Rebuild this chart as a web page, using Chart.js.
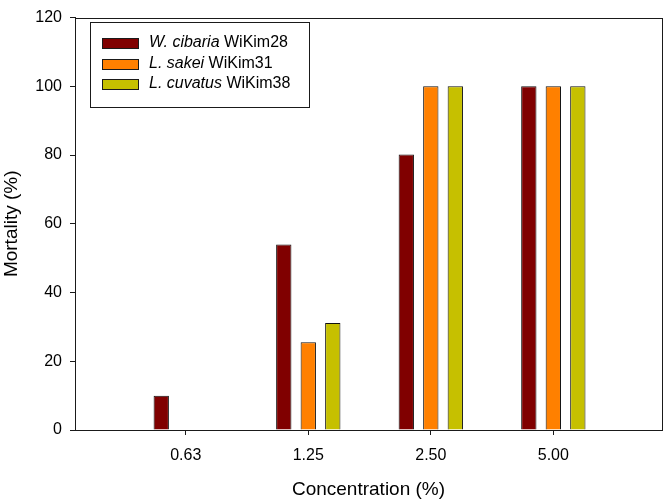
<!DOCTYPE html>
<html>
<head>
<meta charset="utf-8">
<script src="https://cdn.jsdelivr.net/npm/chart.js@4"></script>
<style>
  html, body { margin: 0; padding: 0; background: #fff; }
  #wrap { width: 666px; height: 501px; }
</style>
</head>
<body>
<div id="wrap"><canvas id="c" width="666" height="501"></canvas></div>
<script>
// ── 数据 ──
const concLabels = ['0.63', '1.25', '2.50', '5.00'];
const speciesNames = ['W. cibaria', 'L. sakei', 'L. cuvatus'];
const strainNames  = ['WiKim28', 'WiKim31', 'WiKim38'];
const cibaria = [10, 54, 80.2, 100];
const sakei   = [0, 25.5, 100, 100];
const cuvatus = [0, 31.1, 100, 100];
const yTicks  = [0, 20, 40, 60, 80, 100, 120];

const seriesValues = [cibaria, sakei, cuvatus];
const seriesColors = ['#800000', '#ff8000', '#c6c000'];
const FONT = '"Liberation Sans", Arial, sans-serif';

const datasets = seriesValues.map((vals, i) => ({
  label: speciesNames[i] + ' ' + strainNames[i],
  data: vals.map((v, k) => ({ x: k, y: v })),
  backgroundColor: seriesColors[i],
  borderColor: '#111',
  borderWidth: 1,
  borderSkipped: 'bottom',
  categoryPercentage: 0.6,
  barPercentage: 0.625,
}));

// 图框 + 自定义图例（斜体种名）
const frameLegend = {
  id: 'frameLegend',
  afterDraw(chart) {
    const { ctx, chartArea: a } = chart;
    ctx.save();
    ctx.strokeStyle = '#1a1a1a';
    ctx.lineWidth = 1;
    ctx.strokeRect(Math.round(a.left) + 0.5, Math.round(a.top) + 0.5,
                   Math.round(a.right - a.left), Math.round(a.bottom - a.top));

    // legend box
    ctx.strokeRect(90.5, 22.5, 219, 85);
    const rows = [43, 64, 84];
    ctx.textBaseline = 'middle';
    rows.forEach((y, i) => {
      ctx.fillStyle = seriesColors[i];
      ctx.fillRect(102, y - 5, 37, 11);
      ctx.strokeRect(102.5, y - 4.5, 36, 10);
      ctx.fillStyle = '#000';
      ctx.font = 'italic 16px ' + FONT;
      ctx.fillText(speciesNames[i], 149, y);
      const w = ctx.measureText(speciesNames[i] + ' ').width;
      ctx.font = '16px ' + FONT;
      ctx.fillText(strainNames[i], 149 + w, y);
    });
    ctx.restore();
  },
};

new Chart(document.getElementById('c'), {
  type: 'bar',
  data: { datasets },
  plugins: [frameLegend],
  options: {
    responsive: false,
    animation: false,
    layout: { padding: { top: 6, right: 4, left: 0, bottom: 0 } },
    plugins: { legend: { display: false }, tooltip: { enabled: false } },
    scales: {
      x: {
        type: 'linear',
        offset: false,
        min: -0.904,
        max: 3.887,
        afterBuildTicks: s => { s.ticks = concLabels.map((_, k) => ({ value: k })); },
        afterFit: s => { s.height = 71; },
        ticks: {
          color: '#000',
          font: { family: FONT, size: 16 },
          padding: 11,
          callback: v => concLabels[v] ?? '',
        },
        grid: { offset: false, drawOnChartArea: false, tickLength: 5, color: '#1a1a1a' },
        border: { color: '#1a1a1a', width: 1 },
        title: {
          display: true,
          text: 'Concentration (%)',
          color: '#000',
          font: { family: FONT, size: 19 },
          padding: { top: 0, bottom: 0 },
        },
      },
      y: {
        min: 0,
        max: 120,
        afterBuildTicks: s => { s.ticks = yTicks.map(v => ({ value: v })); },
        afterFit: s => { s.width = 75; },
        ticks: {
          color: '#000',
          font: { family: FONT, size: 16 },
          padding: 8,
        },
        grid: { drawOnChartArea: false, tickLength: 5, color: '#1a1a1a' },
        border: { color: '#1a1a1a', width: 1 },
        title: {
          display: true,
          text: 'Mortality (%)',
          color: '#000',
          font: { family: FONT, size: 19 },
          padding: 0,
        },
      },
    },
  },
});
</script>
</body>
</html>
